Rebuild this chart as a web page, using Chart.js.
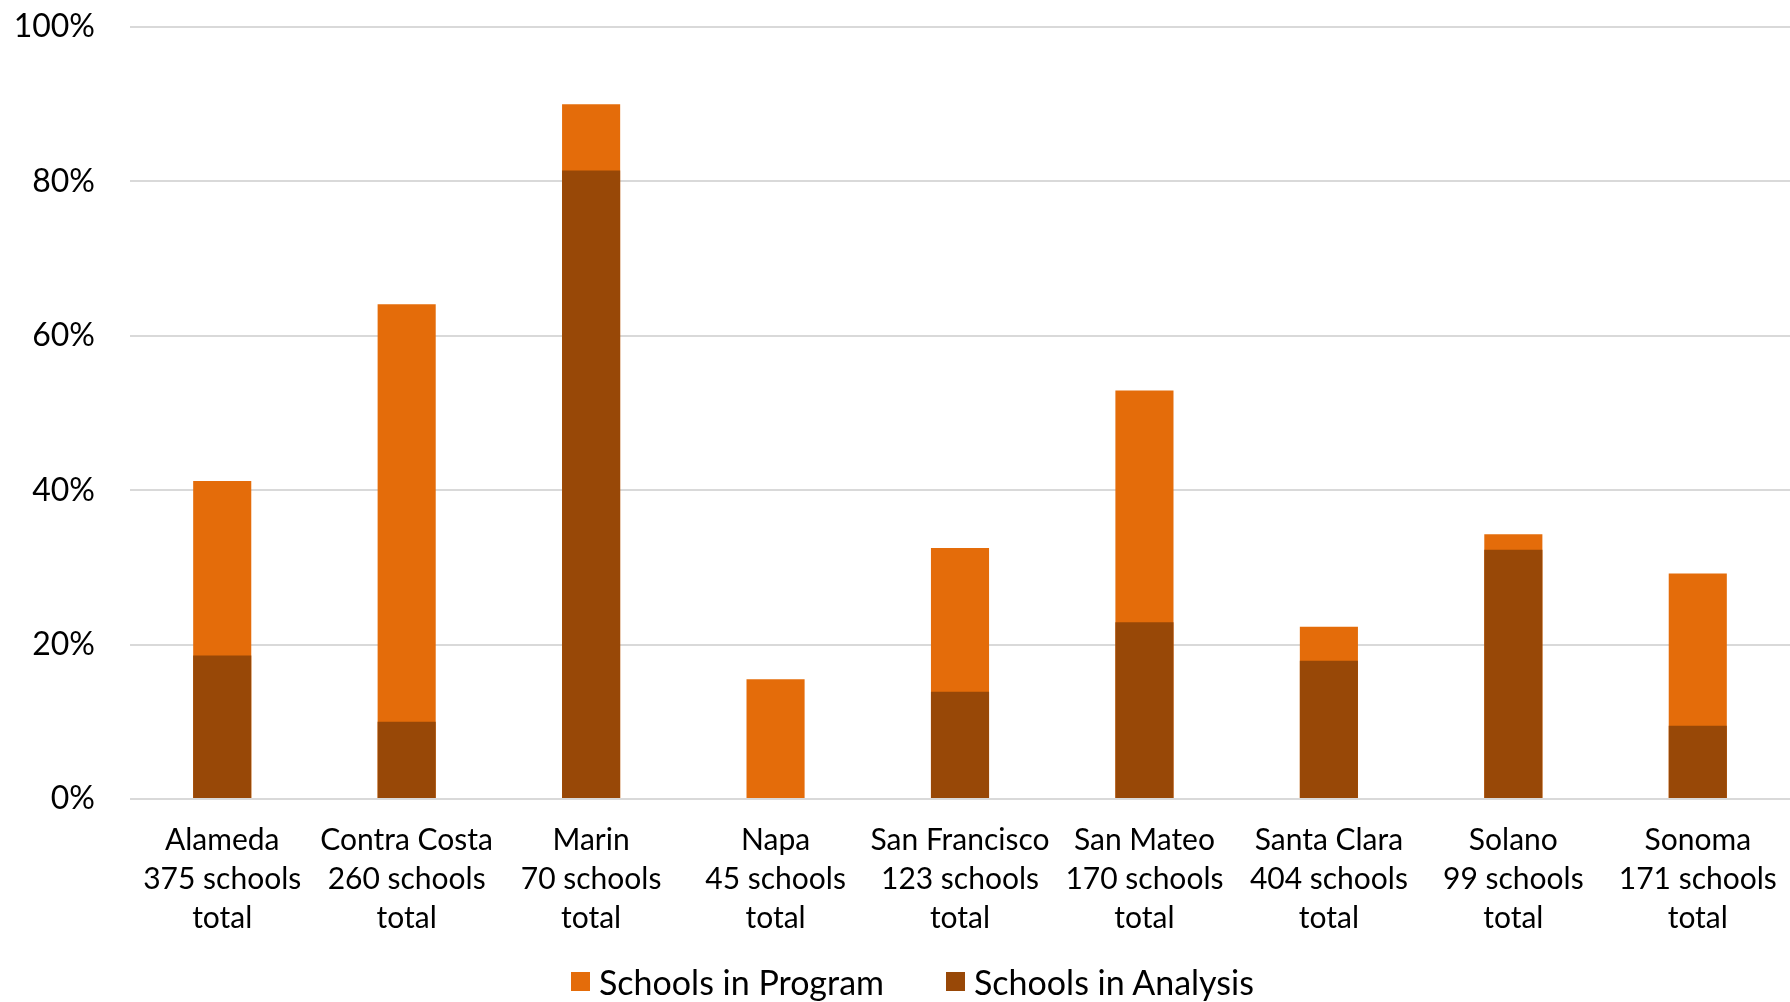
<!DOCTYPE html>
<html>
<head>
<meta charset="utf-8">
<script src="https://cdn.jsdelivr.net/npm/chart.js@4.4.1/dist/chart.umd.min.js"></script>
<style>
  html, body { margin: 0; padding: 0; background: #fff; }
  #wrap { position: relative; width: 1790px; height: 1002px; }
  #legend {
    position: absolute; left: 571px; top: 961px; height: 40px;
    display: flex; align-items: center; gap: 62px;
    font-family: Lato, "Open Sans", sans-serif; font-size: 34px; color: #000;
  }
  .lg-item { display: flex; align-items: center; gap: 9px; white-space: nowrap; }
  .lg-box { width: 19px; height: 19px; display: inline-block; }
</style>
</head>
<body>
<div id="wrap">
  <canvas id="chart" width="1790" height="1002"></canvas>
  <div id="legend"></div>
</div>
<script>
// Bay Area counties – share of schools in program / in analysis
const counties = ['Alameda', 'Contra Costa', 'Marin', 'Napa', 'San Francisco', 'San Mateo', 'Santa Clara', 'Solano', 'Sonoma'];
const schoolTotals = [375, 260, 70, 45, 123, 170, 404, 99, 171];

const inProgram  = [41.2, 64.1, 90.0, 15.5, 32.5, 52.9, 22.3, 34.3, 29.2];
const inAnalysis = [18.6, 10.0, 81.4, 0, 13.9, 22.9, 17.9, 32.3, 9.5];

const yTicks = [0, 20, 40, 60, 80, 100];

const FONT = 'Lato, "Open Sans", sans-serif';

const labels = counties.map((c, i) => [c, schoolTotals[i] + ' schools', 'total']);

const chart = new Chart(document.getElementById('chart'), {
  type: 'bar',
  data: {
    labels,
    datasets: [
      {
        label: 'Schools in Program',
        data: inProgram,
        backgroundColor: '#e46c0a',
        grouped: false,
        order: 1,
        barPercentage: 0.315,
        categoryPercentage: 1
      },
      {
        label: 'Schools in Analysis',
        data: inAnalysis,
        backgroundColor: '#984807',
        grouped: false,
        order: 0,
        barPercentage: 0.315,
        categoryPercentage: 1
      }
    ]
  },
  options: {
    responsive: false,
    animation: false,
    layout: { padding: { top: 27, right: 0, bottom: 64, left: 0 } },
    scales: {
      x: {
        grid: { display: false, drawTicks: false },
        border: { display: false },
        afterFit: s => { s.height = 139; s.paddingLeft = 0; s.paddingRight = 0; },
        ticks: {
          color: '#000',
          font: { family: FONT, size: 30, lineHeight: 1.3 },
          padding: 22,
          maxRotation: 0,
          autoSkip: false
        }
      },
      y: {
        min: 0,
        max: 100,
        afterBuildTicks: s => { s.ticks = yTicks.map(v => ({ value: v })); },
        afterFit: s => { s.width = 130; s.paddingTop = 0; s.paddingBottom = 0; },
        grid: { color: '#d9d9d9', lineWidth: 2, drawTicks: false },
        border: { display: false },
        ticks: {
          color: '#000',
          font: { family: FONT, size: 32 },
          padding: 35,
          callback: v => v + '%'
        }
      }
    },
    plugins: {
      legend: { display: false },
      tooltip: { enabled: false }
    }
  }
});

// ----- legend (html, built from the datasets) -----
const legendEl = document.getElementById('legend');
chart.data.datasets.forEach(ds => {
  const item = document.createElement('span');
  item.className = 'lg-item';
  const box = document.createElement('span');
  box.className = 'lg-box';
  box.style.background = ds.backgroundColor;
  const txt = document.createElement('span');
  txt.textContent = ds.label;
  item.appendChild(box);
  item.appendChild(txt);
  legendEl.appendChild(item);
});
</script>
</body>
</html>
